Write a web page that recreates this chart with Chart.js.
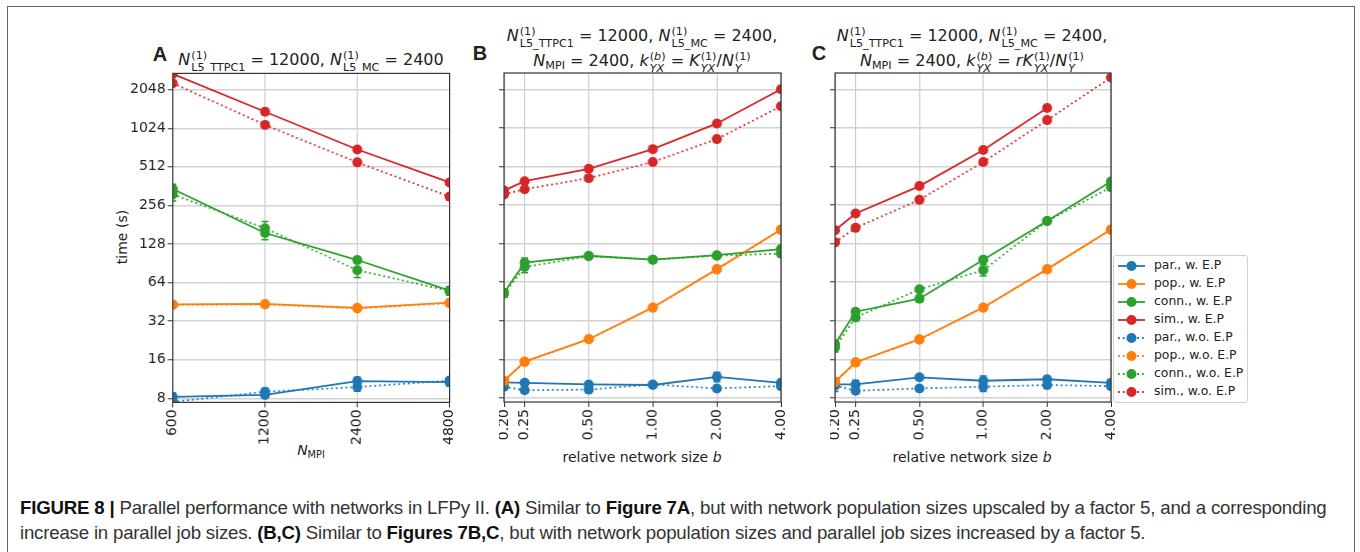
<!DOCTYPE html>
<html>
<head>
<meta charset="utf-8">
<script src="https://cdn.jsdelivr.net/npm/chart.js@4.4.1/dist/chart.umd.min.js"></script>
<style>
  body { margin: 0; background: #fff; width: 1360px; height: 552px; overflow: hidden; position: relative;
         font-family: 'DejaVu Sans', sans-serif; color: #222; }
  .frame { position: absolute; left: 7px; top: 6px; width: 1346px; height: 600px; border: 1.5px solid #666; }
  .wrap { position: absolute; }
  .txt { position: absolute; white-space: nowrap; font-size: 16px; transform: translate(-50%, -50%); }
  .lbl { position: absolute; white-space: nowrap; font-size: 14px; transform: translate(-50%, -50%); }
  .letter { position: absolute; font-weight: bold; font-size: 20px; font-family: 'Liberation Sans', sans-serif; transform: translate(-50%, -50%); }
  .ss { display: inline-flex; flex-direction: column; font-size: 0.7em; line-height: 1.0; vertical-align: 0.5em; margin-left: 1px; }
  .sb { font-size: 0.7em; vertical-align: -0.3em; }
  i { font-style: italic; }
  .legend { position: absolute; left: 1113px; top: 255px; width: 133px; height: 146px; border: 1px solid #d0d0d0;
            border-radius: 3px; background: #fff; }
  .legend .row { position: absolute; left: 4px; height: 18px; font-size: 12.4px; }
  .legend svg { position: absolute; left: 0; top: 4px; }
  .legend span { position: absolute; left: 36px; top: 0px; white-space: nowrap; }
  .cap { position: absolute; left: 20px; white-space: nowrap; font-family: 'Liberation Sans', sans-serif;
         font-size: 16px; color: #333; letter-spacing: -0.2px; }
  .cap b { color: #111; }
</style>
</head>
<body>
<div class="frame"></div>

<div class="letter" style="left:160px;top:54px">A</div>
<div class="letter" style="left:480px;top:53px">B</div>
<div class="letter" style="left:819px;top:53px">C</div>

<div class="txt" id="titleA" style="left:311px;top:61px"></div>
<div class="txt" id="titleB1" style="left:642px;top:37px"></div>
<div class="txt" id="titleB2" style="left:642px;top:62px"></div>
<div class="txt" id="titleC1" style="left:972px;top:37px"></div>
<div class="txt" id="titleC2" style="left:972px;top:62px"></div>

<div class="lbl" style="left:122px;top:237px;transform:translate(-50%,-50%) rotate(-90deg)">time (s)</div>
<div class="lbl" style="left:311px;top:451px"><i>N</i><span class="sb">MPI</span></div>
<div class="lbl" style="left:642px;top:457px">relative network size <i>b</i></div>
<div class="lbl" style="left:972px;top:457px">relative network size <i>b</i></div>

<div class="wrap" id="wrapA" style="left:100px;top:60px;width:360px;height:400px"><canvas id="chartA"></canvas></div>
<div class="wrap" id="wrapB" style="left:480px;top:60px;width:310px;height:400px"><canvas id="chartB"></canvas></div>
<div class="wrap" id="wrapC" style="left:810px;top:60px;width:310px;height:400px"><canvas id="chartC"></canvas></div>

<div class="legend" id="legend"></div>

<div class="cap" id="cap1" style="top:497px"><b>FIGURE 8 |</b> Parallel performance with networks in LFPy II. <b>(A)</b> Similar to <b>Figure 7A</b>, but with network population sizes upscaled by a factor 5, and a corresponding</div>
<div class="cap" id="cap2" style="top:522px">increase in parallel job sizes. <b>(B,C)</b> Similar to <b>Figures 7B,C</b>, but with network population sizes and parallel job sizes increased by a factor 5.</div>

<script>
// series
var seriesNames = ['par., w. E.P', 'pop., w. E.P', 'conn., w. E.P', 'sim., w. E.P',
                   'par., w.o. E.P', 'pop., w.o. E.P', 'conn., w.o. E.P', 'sim., w.o. E.P'];
var seriesColors = ['#1f77b4', '#ff7f0e', '#2ca02c', '#d62728',
                    '#1f77b4', '#ff7f0e', '#2ca02c', '#d62728'];

// y axis (log2)
var yTicks = [8, 16, 32, 64, 128, 256, 512, 1024, 2048];
var yMin = 7.44, yMax = 2744;

// panel A: N_MPI
var xA = [600, 1200, 2400, 4800];
var A_par_w   = [8.2, 8.5, 10.9, 10.7];
var A_pop_w   = [43.2, 43.6, 40.7, 44.6];
var A_conn_w  = [344, 156, 96, 55.4];
var A_sim_w   = [2720, 1377, 699, 387];
var A_par_wo  = [7.5, 9.0, 9.8, 11.0];
var A_pop_wo  = [42.8, 43.2, 40.2, 44.2];
var A_conn_wo = [312, 170, 80, 55];
var A_sim_wo  = [2300, 1088, 555, 300];
// error bars (s)
var A_par_w_err   = [0.6, 0.5, 0.8, 0.7];
var A_par_wo_err  = [0.4, 0.6, 0.7, 0.6];
var A_conn_w_err  = [30, 18, 5, 4];
var A_conn_wo_err = [35, 22, 10, 4];

// panels B, C: relative network size b
var xB = [0.2, 0.25, 0.5, 1, 2, 4];
var B_par_w   = [10.6, 10.5, 10.2, 10.1, 11.7, 10.5];
var B_pop_w   = [10.9, 15.4, 23, 40.7, 81, 165];
var B_conn_w  = [53, 91, 103, 96, 104, 116];
var B_sim_w   = [332, 393, 491, 699, 1109, 2048];
var B_par_wo  = [9.8, 9.2, 9.3, 10.2, 9.5, 9.9];
var B_pop_wo  = [10.8, 15.3, 23, 40.5, 80.5, 164];
var B_conn_wo = [52, 84, 102, 96, 103, 107];
var B_sim_wo  = [310, 340, 415, 555, 837, 1510];
var B_par_w_err   = [0.5, 0.6, 0.5, 0.4, 1.0, 0.5];
var B_par_wo_err  = [0.4, 0.4, 0.4, 0.3, 0.4, 0.3];
var B_conn_w_err  = [4, 8, 2, 2, 2, 6];
var B_conn_wo_err = [3, 8, 2, 2, 2, 5];

var C_par_w   = [10.2, 10.2, 11.6, 10.9, 11.2, 10.5];
var C_pop_w   = [10.7, 15.2, 23, 40.7, 81, 165];
var C_conn_w  = [21, 37.7, 47.6, 96, 192, 391];
var C_sim_w   = [163, 220, 360, 688, 1465, null];
var C_par_wo  = [10.0, 9.1, 9.5, 9.8, 10.1, 9.9];
var C_pop_wo  = [10.6, 15.1, 22.8, 40.5, 80.5, 164];
var C_conn_wo = [19.8, 34, 56.3, 79.5, 192, 353];
var C_sim_wo  = [131, 170, 281, 555, 1177, 2530];
var C_par_w_err   = [1.2, 0.8, 0.5, 1.0, 0.6, 0.6];
var C_par_wo_err  = [0.5, 0.4, 0.3, 0.8, 0.6, 0.4];
var C_conn_w_err  = [1.5, 2, 3, 3, 4, 15];
var C_conn_wo_err = [1.5, 2, 2, 8, 4, 20];

// math text helpers
function ss(top, bot) { return '<span class="ss"><span>' + top + '</span><span>' + bot + '</span></span>'; }
var hdr = '<i>N</i>' + ss('(1)', 'L5_TTPC1') + ' = 12000, <i>N</i>' + ss('(1)', 'L5_MC') + ' = 2400';
document.getElementById('titleA').innerHTML = hdr;
document.getElementById('titleB1').innerHTML = hdr + ',';
document.getElementById('titleC1').innerHTML = hdr + ',';
var k = '<i>N</i><span class="sb">MPI</span> = 2400, <i>k</i>' + ss('(<i>b</i>)', '<i>YX</i>') + ' = ';
var kr = '<i>K</i>' + ss('(1)', '<i>YX</i>') + '/<i>N</i>' + ss('(1)', '<i>Y</i>');
document.getElementById('titleB2').innerHTML = k + kr;
document.getElementById('titleC2').innerHTML = k + '<i>r</i>' + kr;

// error bars plugin
var errorBars = {
	id: 'errorBars',
	beforeDatasetsDraw: function(chart) {
		var ctx = chart.ctx, a = chart.chartArea, x = chart.scales.x, y = chart.scales.y;
		ctx.save();
		ctx.beginPath();
		ctx.rect(a.left, a.top, a.right - a.left, a.bottom - a.top);
		ctx.clip();
		chart.data.datasets.forEach(function(ds) {
			if (!ds.err) return;
			ctx.strokeStyle = ds.borderColor;
			ctx.lineWidth = 1.5;
			ctx.setLineDash([]);
			ds.err.forEach(function(e, i) {
				var p = ds.data[i];
				if (p.y == null || !e) return;
				var px = x.getPixelForValue(p.x);
				var y0 = y.getPixelForValue(p.y - e), y1 = y.getPixelForValue(p.y + e);
				ctx.beginPath();
				ctx.moveTo(px, y0); ctx.lineTo(px, y1);
				ctx.moveTo(px - 3.5, y0); ctx.lineTo(px + 3.5, y0);
				ctx.moveTo(px - 3.5, y1); ctx.lineTo(px + 3.5, y1);
				ctx.stroke();
			});
		});
		ctx.restore();
	}
};

// axes box
var axesBox = {
	id: 'axesBox',
	afterDraw: function(chart) {
		var ctx = chart.ctx, a = chart.chartArea;
		ctx.save();
		ctx.strokeStyle = '#333';
		ctx.lineWidth = 1.2;
		ctx.strokeRect(a.left, a.top, a.right - a.left, a.bottom - a.top);
		ctx.restore();
	}
};

function makeChart(id, xs, values, errs, xFmt, showY) {
	var datasets = values.map(function(vals, i) {
		return {
			label: seriesNames[i],
			data: xs.map(function(x, j) { return {x: x, y: vals[j]}; }),
			err: errs[i],
			borderColor: seriesColors[i],
			backgroundColor: seriesColors[i],
			borderWidth: 1.8,
			borderDash: i >= 4 ? [1.8, 3] : [],
			pointRadius: 5,
			pointBorderWidth: 0,
			pointBackgroundColor: seriesColors[i],
			tension: 0,
			spanGaps: false,
			clip: 0,
			order: 10 - i
		};
	});
	return new Chart(document.getElementById(id).getContext('2d'), {
		type: 'line',
		data: { datasets: datasets },
		plugins: [errorBars, axesBox],
		options: {
			responsive: true,
			maintainAspectRatio: false,
			animation: false,
			devicePixelRatio: 1,
			layout: { padding: 0 },
			plugins: { legend: { display: false }, tooltip: { enabled: false } },
			scales: {
				x: {
					type: 'logarithmic',
					min: xs[0], max: xs[xs.length - 1],
					afterBuildTicks: function(s) { s.ticks = xs.map(function(v) { return {value: v}; }); },
					border: { display: false },
					grid: { color: '#c4c4c4', lineWidth: 1, tickLength: 5, tickColor: '#333', tickWidth: 1 },
					ticks: {
						autoSkip: false, minRotation: 90, maxRotation: 90, padding: 2,
						color: '#222', font: { family: 'DejaVu Sans', size: 14 },
						callback: function(v) { return xFmt(v); }
					}
				},
				y: {
					type: 'logarithmic',
					min: yMin, max: yMax,
					afterBuildTicks: function(s) { s.ticks = yTicks.map(function(v) { return {value: v}; }); },
					border: { display: false },
					grid: { color: '#d2d2d2', lineWidth: 1.5, tickLength: 5, tickColor: '#333', tickWidth: 1 },
					ticks: {
						display: showY, padding: 2,
						color: '#222', font: { family: 'DejaVu Sans', size: 14 },
						callback: function(v) { return String(v); }
					}
				}
			}
		}
	});
}

// place chart so its plot area lands on box
function place(chart, wrapId, box) {
	var wrap = document.getElementById(wrapId);
	var a = chart.chartArea;
	var w = wrap.clientWidth + (box.r - box.l) - (a.right - a.left);
	var h = wrap.clientHeight + (box.b - box.t) - (a.bottom - a.top);
	wrap.style.width = w + 'px';
	wrap.style.height = h + 'px';
	chart.resize();
	a = chart.chartArea;
	wrap.style.left = (box.l - a.left) + 'px';
	wrap.style.top = (box.t - a.top) + 'px';
}

var chartA = makeChart('chartA', xA,
	[A_par_w, A_pop_w, A_conn_w, A_sim_w, A_par_wo, A_pop_wo, A_conn_wo, A_sim_wo],
	[A_par_w_err, null, A_conn_w_err, null, A_par_wo_err, null, A_conn_wo_err, null],
	function(v) { return String(v); }, true);
var chartB = makeChart('chartB', xB,
	[B_par_w, B_pop_w, B_conn_w, B_sim_w, B_par_wo, B_pop_wo, B_conn_wo, B_sim_wo],
	[B_par_w_err, null, B_conn_w_err, null, B_par_wo_err, null, B_conn_wo_err, null],
	function(v) { return v.toFixed(2); }, false);
var chartC = makeChart('chartC', xB,
	[C_par_w, C_pop_w, C_conn_w, C_sim_w, C_par_wo, C_pop_wo, C_conn_wo, C_sim_wo],
	[C_par_w_err, null, C_conn_w_err, null, C_par_wo_err, null, C_conn_wo_err, null],
	function(v) { return v.toFixed(2); }, false);

place(chartA, 'wrapA', {l: 173, r: 449, t: 73, b: 402});
place(chartB, 'wrapB', {l: 504, r: 780, t: 73, b: 402});
place(chartC, 'wrapC', {l: 835, r: 1110, t: 73, b: 402});

// legend
var leg = document.getElementById('legend');
seriesNames.forEach(function(name, i) {
	var row = document.createElement('div');
	row.className = 'row';
	row.style.top = (1 + i * 18) + 'px';
	var dash = i >= 4 ? ' stroke-dasharray="1.8 3"' : '';
	row.innerHTML = '<svg width="28" height="10"><line x1="0" y1="5" x2="27" y2="5" stroke="' + seriesColors[i] +
		'" stroke-width="1.8"' + dash + '/><circle cx="13.5" cy="5" r="5" fill="' + seriesColors[i] + '"/></svg>' +
		'<span>' + name + '</span>';
	leg.appendChild(row);
});

// caption width fit
var cap1 = document.getElementById('cap1'), cap2 = document.getElementById('cap2');
var fs = 16 * 1302 / cap1.getBoundingClientRect().width;
cap1.style.fontSize = fs + 'px';
cap2.style.fontSize = fs + 'px';
</script>
</body>
</html>
